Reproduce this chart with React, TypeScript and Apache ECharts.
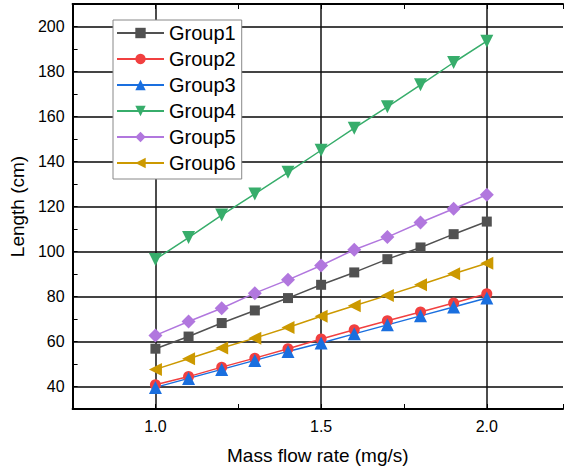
import { useEffect, useRef } from 'react';
import * as echarts from 'echarts';

const massFlow = [1.0, 1.1, 1.2, 1.3, 1.4, 1.5, 1.6, 1.7, 1.8, 1.9, 2.0];
const group1 = [56.8, 62.2, 68.2, 73.8, 79.3, 85.2, 90.7, 96.6, 101.8, 107.7, 113.3];
const group2 = [40.8, 44.4, 48.6, 52.6, 56.8, 61.1, 65.2, 69.2, 73.1, 77.1, 81.2];
const group3 = [39.6, 43.6, 47.6, 51.6, 55.6, 59.3, 63.4, 67.4, 71.4, 75.3, 79.3];
const group4 = [96.5, 106.2, 116.2, 125.6, 135.2, 145.0, 154.8, 164.3, 174.1, 184.0, 193.5];
const group5 = [62.7, 68.9, 74.8, 81.5, 87.4, 93.8, 100.8, 106.4, 112.9, 119.0, 125.2];
const group6 = [47.6, 52.3, 57.1, 61.5, 66.2, 71.2, 75.9, 80.5, 85.2, 90.1, 94.8];

const seriesNames = ['Group1', 'Group2', 'Group3', 'Group4', 'Group5', 'Group6'];
const seriesValues = [group1, group2, group3, group4, group5, group6];
const seriesColors = ['#515151', '#F14040', '#1A6FDF', '#37AD6B', '#B177DE', '#CC9900'];
const seriesSymbols = ['rect', 'circle', 'triangle', 'triangle', 'diamond', 'triangle'];
const seriesRotate = [0, 0, 0, 180, 0, 90];
const seriesSymbolSize = [10, 11, 13, 13, 14, 13];

const yTickLabels = [40, 60, 80, 100, 120, 140, 160, 180, 200];
const xTickLabels = [1.0, 1.5, 2.0];

const FONT = 'Arial, "Liberation Sans", sans-serif';

export default function App() {
  const ref = useRef<HTMLDivElement>(null);

  useEffect(() => {
    if (!ref.current) return;
    const chart = echarts.init(ref.current, null, { renderer: 'svg' });

    const series = seriesNames.map((name, i) => ({
      name,
      type: 'line',
      data: massFlow.map((x, j) => [x, seriesValues[i][j]]),
      symbol: seriesSymbols[i],
      symbolRotate: seriesRotate[i],
      symbolSize: seriesSymbolSize[i],
      showAllSymbol: true,
      itemStyle: { color: seriesColors[i], opacity: 1 },
      lineStyle: { color: seriesColors[i], width: 1.5 },
      emphasis: { disabled: true },
      z: 3,
    }));

    const tickStyle = { show: true, inside: true, length: 5, lineStyle: { color: '#000', width: 1 } };

    chart.setOption({
      animation: false,
      textStyle: { fontFamily: FONT },
      grid: { left: 71, top: 4, bottom: 64, right: 0, containLabel: false },
      legend: {
        left: 113,
        top: 20,
        orient: 'vertical',
        data: seriesNames,
        itemWidth: 47,
        itemHeight: 13,
        itemGap: 6,
        padding: [3, 6, 6, 3],
        backgroundColor: '#fff',
        borderColor: '#888',
        borderWidth: 1,
        borderRadius: 0,
        textStyle: { fontSize: 20, color: '#000', fontFamily: FONT, lineHeight: 20 },
        selectedMode: false,
      },
      xAxis: [
        {
          type: 'value',
          min: 0.75,
          max: 2.23,
          interval: 0.25,
          position: 'bottom',
          name: 'Mass flow rate (mg/s)',
          nameLocation: 'middle',
          nameGap: 37,
          nameTextStyle: { fontSize: 19, color: '#000', fontFamily: FONT },
          axisLine: { show: true, onZero: false, lineStyle: { color: '#000', width: 2 } },
          axisTick: tickStyle,
          axisLabel: {
            fontSize: 16,
            color: '#000',
            margin: 9,
            fontFamily: FONT,
            formatter: (v: number) =>
              xTickLabels.some((t) => Math.abs(t - v) < 1e-6) ? v.toFixed(1) : '',
          },
          splitLine: { show: true, lineStyle: { color: ['rgba(0,0,0,0)', '#111'], width: 1.5 } },
        },
        {
          type: 'value',
          min: 0.75,
          max: 2.23,
          interval: 0.25,
          position: 'top',
          axisLine: { show: true, onZero: false, lineStyle: { color: '#000', width: 2 } },
          axisTick: tickStyle,
          axisLabel: { show: false },
          splitLine: { show: false },
        },
      ],
      yAxis: {
        type: 'value',
        min: 30,
        max: 210,
        interval: 10,
        name: 'Length (cm)',
        nameLocation: 'middle',
        nameGap: 42,
        nameTextStyle: { fontSize: 19, color: '#000', fontFamily: FONT },
        axisLine: { show: true, onZero: false, lineStyle: { color: '#000', width: 2 } },
        axisTick: tickStyle,
        axisLabel: {
          fontSize: 16,
          color: '#000',
          margin: 8,
          fontFamily: FONT,
          formatter: (v: number) => (yTickLabels.includes(v) ? String(v) : ''),
        },
        splitLine: { show: true, lineStyle: { color: ['rgba(0,0,0,0)', '#444'], width: 2 } },
      },
      series,
    });

    return () => chart.dispose();
  }, []);

  return (
    <div
      ref={ref}
      style={{ position: 'fixed', left: 0, top: 0, width: 566, height: 473, background: '#fff' }}
    />
  );
}
